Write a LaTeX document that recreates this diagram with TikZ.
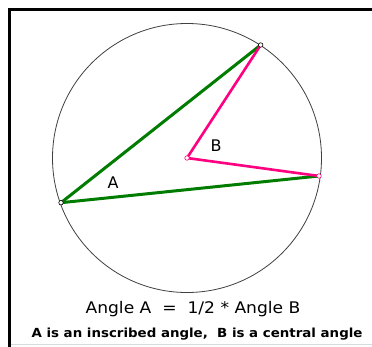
\documentclass[tikz,border=0pt]{standalone}
\usepackage{fontspec}
\setmainfont{DejaVu Sans}
\definecolor{segGreen}{RGB}{0,125,0}
\definecolor{segPink}{RGB}{255,0,128}
\tikzset{
  frameline/.style={line width=3pt, black},
  greenseg/.style={line width=3pt, segGreen, line cap=round},
  pinkseg/.style={line width=2.6pt, segPink, line cap=round, line join=round},
  vmark/.style={circle, draw=black, fill=white, line width=0.6pt, inner sep=0pt, minimum size=4.5pt},
  pmark/.style={vmark, draw=segPink},
  anglelabel/.style={font=\fontsize{16}{18}\selectfont, inner sep=0pt},
}
\begin{document}
\begin{tikzpicture}[x=1pt,y=-1pt]
\useasboundingbox (0,0) rectangle (372,347);
\fill[white] (0,0) rectangle (372,347);
\draw[frameline] (9.5,347) -- (9.5,9.5) -- (372,9.5);
\draw[black!15, line width=1pt] (11,344.5) -- (372,344.5);
\coordinate (O) at (187,158);
\coordinate (P1) at (260.7,45);
\coordinate (P2) at (61,202.7);
\coordinate (P3) at (319,176);
\draw[line width=0.8pt, black!75] (O) circle[radius=134.5];
\draw[greenseg] (P2) -- (P1);
\draw[greenseg] (P2) -- (P3);
\draw[pinkseg] (P1) -- (O) -- (P3);
\node[vmark] (m1) at (P1) {};
\node[vmark] (m2) at (P2) {};
\node[pmark] (m3) at (P3) {};
\node[pmark] (m0) at (O) {};
\node[anglelabel] (la) at (113,183) {A};
\node[anglelabel] (lb) at (216,146) {B};
\node[anchor=base, inner sep=0pt, font=\fontsize{16}{18}\selectfont] (t1) at (193,313) {\scalebox{1.07}[1]{Angle A \ = \ 1/2 * Angle B}};
\node[anchor=base, inner sep=0pt, font=\bfseries\fontsize{12.5}{14}\selectfont] (t2) at (197,337.5) {\scalebox{1.07}[1]{A is an inscribed angle, \ B is a central angle}};
\end{tikzpicture}
\end{document}
